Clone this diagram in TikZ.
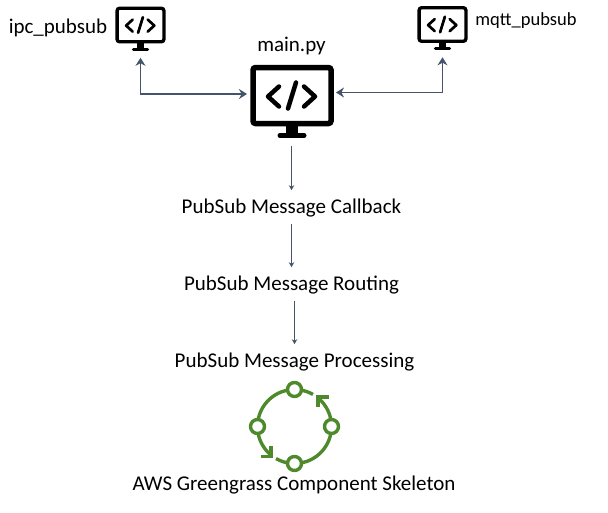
\documentclass[tikz,border=0pt]{standalone}
\usepackage{fontspec}
\setmainfont{Carlito}
\usepackage{xcolor}
\usetikzlibrary{arrows.meta,positioning,calc}
\definecolor{linkblue}{HTML}{44546A}
\definecolor{ringgreen}{HTML}{4E8A2B}
% name, x, y, scale
\newcommand{\monitor}[4]{
  \node[screenbox, minimum width=#4*78pt, minimum height=#4*56pt, line width=#4*5.5pt] (#1) at (#2,#3) {};
  \begin{scope}[shift={(#1.center)}, x=#4*1pt, y=-#4*1pt, line width=#4*4.5pt, line cap=round, line join=round]
    \fill (-6,28) rectangle (6,38);
    \draw[line width=#4*5pt] (-12,40) -- (12,40);
    \draw (-13,-9) -- (-24,1) -- (-13,11);
    \draw (12,-9) -- (23,1) -- (12,11);
    \draw (4,-13) -- (-4,13);
  \end{scope}}
\tikzset{
  screenbox/.style={draw, rounded corners=2.5pt, inner sep=0pt, outer sep=0pt},
  lbl/.style={font=\fontsize{21}{25}\selectfont, inner sep=0pt},
  link/.style={draw=linkblue, line width=1.8pt, {Stealth[length=8pt,width=10pt]}-{Stealth[length=8pt,width=10pt]}},
  flow/.style={draw=linkblue, line width=1.2pt, -{Stealth[length=5pt,width=5.5pt]}},
  ringdot/.style={circle, draw=ringgreen, fill=white, line width=3.4pt, minimum size=14pt, inner sep=0pt},
  ring/.style={draw=ringgreen, line width=3.4pt},
}
\begin{document}
\begin{tikzpicture}[x=1pt, y=-1pt, >=Stealth]
\useasboundingbox (0,0) rectangle (608,512);
\monitor{main}{292}{95.5}{1}
\monitor{ipc}{140.5}{25}{0.6}
\monitor{mqtt}{442.5}{24.5}{0.6}
\node[lbl] (mainlbl) at (291.5,46) {main.py};
\node[lbl] (ipclbl) at (58,28) {ipc\_pubsub};
\node[lbl, font=\fontsize{18.5}{22}\selectfont] (mqttlbl) at (526,21) {mqtt\_pubsub};
\node[lbl] (callback) at (291.5,208.5) {PubSub Message Callback};
\node[lbl] (routing) at (291.5,285.5) {PubSub Message Routing};
\node[lbl] (processing) at (294.5,362.5) {PubSub Message Processing};
\node[lbl] (skeleton) at (294,485.5) {AWS Greengrass Component Skeleton};
\draw[link, shorten <=6pt, shorten >=16pt] ([yshift=1.5pt]main.west) -| (ipc);
\draw[link, shorten <=5pt, shorten >=16pt] ([yshift=3pt]main.east) -| (mqtt);
\draw[flow, shorten <=22pt, shorten >=9pt] (main.south -| callback) -- (callback);
\draw[flow, shorten <=6pt, shorten >=9pt] (callback.south) -- (routing.north);
\draw[flow, shorten <=6pt, shorten >=9pt] (routing.south -| processing) -- (processing.north);
% ring icon
\coordinate (ringc) at (294.5,426.5);
\draw[ring] ([shift={(60:37pt)}]ringc) arc[start angle=60, end angle=232, radius=37pt];
\draw[ring] ([shift={(240:37pt)}]ringc) arc[start angle=240, end angle=411, radius=37pt];
\foreach \a/\n in {0/ringe,90/ringn,180/ringw,270/rings}
  \node[ringdot] (\n) at ($(ringc)+(\a:37)$) {};
\draw[ring] (261,456.5) -- (271,456.5) -- (271,446);
\draw[ring] (329,397) -- (318,397) -- (318,407);
\end{tikzpicture}
\end{document}
